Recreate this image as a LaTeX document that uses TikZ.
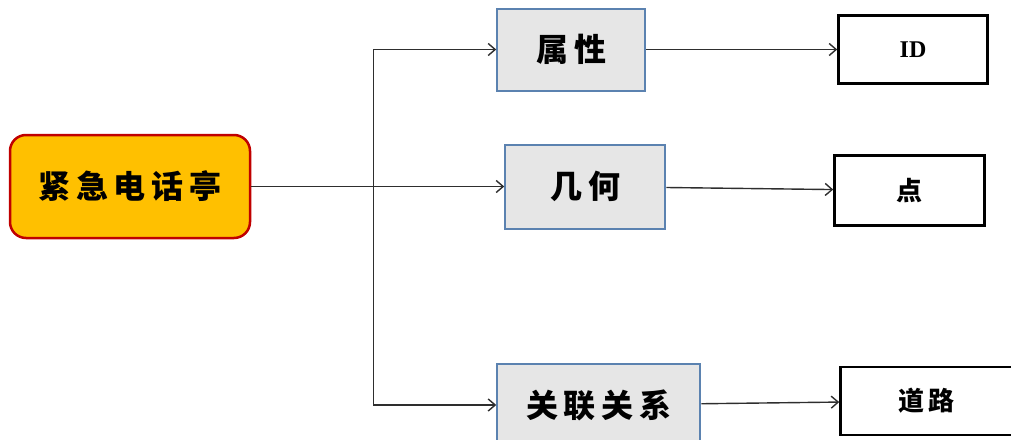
\documentclass[tikz,border=0pt]{standalone}
\usepackage{fontspec}
\setmainfont{Liberation Serif}
\newfontfamily\cjk[LetterSpace=18]{Noto Sans CJK SC}
\usetikzlibrary{arrows.meta, positioning}

\definecolor{kioskfill}{HTML}{FFC000}
\definecolor{kioskdraw}{HTML}{C00000}
\definecolor{midfill}{HTML}{E6E6E6}
\definecolor{middraw}{HTML}{5B82B0}
\definecolor{linegray}{HTML}{2E2E2E}

\begin{document}
\begin{tikzpicture}[
    x=1pt, y=1pt,
    root/.style = {rectangle, draw=kioskdraw, fill=kioskfill, line width=2.5pt, rounded corners=16pt, minimum width=240pt, minimum height=103pt, font=\cjk\bfseries\fontsize{32}{36}\selectfont},
    mid/.style = {rectangle, draw=middraw, fill=midfill, line width=2pt, font=\cjk\bfseries\fontsize{32}{36}\selectfont},
    leaf/.style = {rectangle, draw=black, fill=white, line width=2.5pt, font=\cjk\bfseries\fontsize{26}{30}\selectfont},
    line/.style = {draw=linegray, line width=1.4pt, -{Straight Barb[length=7pt, width=12pt]}}
]
\useasboundingbox (0,0) rectangle (1011,-439);
\clip (0,0) rectangle (1011,-439);

% Nodes
\node [root] (kiosk) at (130,-186.5) {紧急电话亭};

\node [mid, minimum width=160pt, minimum height=84pt, right=253pt of kiosk] (geom) {几何};
\node [mid, minimum width=148pt, minimum height=82pt, above=52pt of geom.north west, anchor=south west, xshift=-8pt] (attr) {属性};
\node [mid, minimum width=203pt, minimum height=82pt, below=131.5pt of geom.south west, anchor=north west, xshift=-8pt, yshift=-2pt] (rel) {关联关系};

\node [leaf, minimum width=149pt, minimum height=68pt, right=191pt of attr, font=\rmfamily\bfseries\fontsize{24}{27}\selectfont] (id) {ID};
\node [leaf, minimum width=150pt, minimum height=70pt, right=167pt of geom, yshift=-4pt] (point) {点};
\node [leaf, minimum width=172pt, minimum height=68pt, right=138pt of rel, yshift=4pt] (road) {道路};

\coordinate [right=122pt of kiosk.east] (branch);

% Edges
\path [line] (kiosk) -- (geom);
\path [line] (branch) |- (attr);
\path [line] (branch) |- (rel);

\path [line] (attr) -- (id);
\path [line] (geom) -- (point);
\path [line] (rel) -- (road);

\end{tikzpicture}
\end{document}
